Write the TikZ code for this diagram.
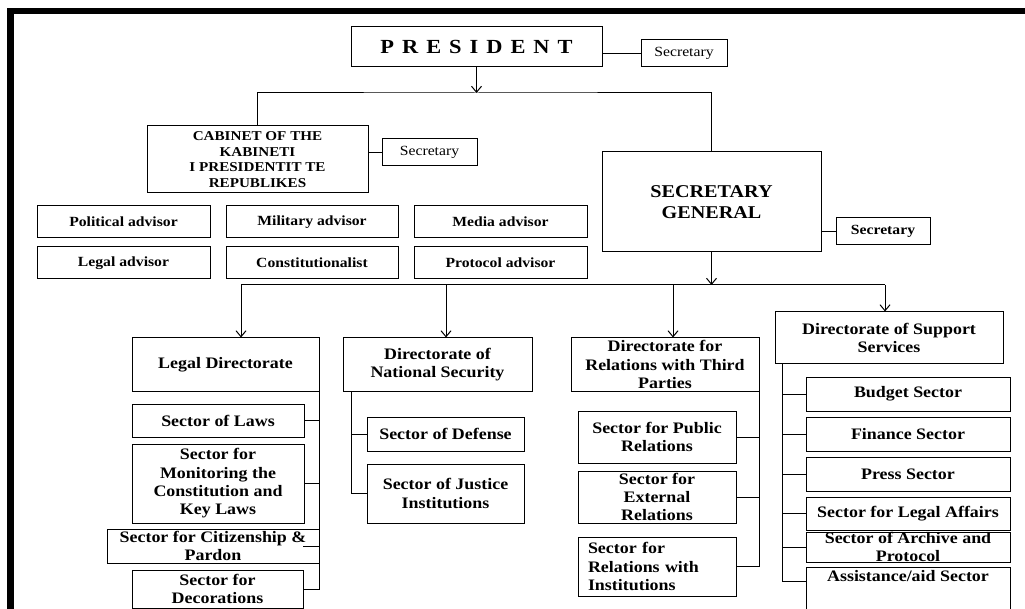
\documentclass[tikz,border=0pt]{standalone}
\usepackage{fontspec}
\setmainfont{Liberation Serif}[FakeStretch=1.12]
\usetikzlibrary{arrows.meta, positioning}

\begin{document}
\begin{tikzpicture}[x=1pt, y=-1pt, line width=1pt, >={Straight Barb[length=6pt,width=10pt]},
    box/.style={draw, inner xsep=2pt, inner ysep=0pt, align=center, font=\bfseries\fontsize{16}{18.3}\selectfont},
    adv/.style={box, minimum width=173pt, minimum height=32pt, font=\bfseries\fontsize{14}{16}\selectfont},
    secbox/.style={box, minimum height=27pt, font=\fontsize{14}{16}\selectfont},
    dirbox/.style={box, minimum height=53pt},
    sectbox/.style={box, minimum width=204pt, minimum height=34pt}]
    \useasboundingbox (0,0) rectangle (1025,609);

    % Black frame (top and left)
    \fill (7,8) rectangle (1025,14);
    \fill (7,8) rectangle (14,609);

    % President and his secretary
    \node[box, minimum width=251pt, minimum height=40pt, font=\bfseries\fontsize{20}{24}\selectfont]
        (pres) at (476.5,47) {{\spaceskip=0.4em\relax P R E S I D E N T}};
    \node[secbox, minimum width=86pt] (psec) at (684,53.5) {Secretary};

    % Cabinet
    \node[box, minimum width=221pt, minimum height=67pt, font=\bfseries\fontsize{13.5}{15.5}\selectfont]
        (cab) at (257.5,159.5) {CABINET OF THE\\KABINETI\\I PRESIDENTIT TE\\REPUBLIKES};
    \node[secbox, minimum width=95pt] (csec) at (429.5,152.5) {Secretary};

    % Secretary general
    \node[box, minimum width=219pt, minimum height=100pt, font=\bfseries\fontsize{18}{21.5}\selectfont]
        (sg) at (711.5,202) {SECRETARY\\GENERAL};
    \node[secbox, minimum width=94pt, font=\bfseries\fontsize{14}{16}\selectfont] (sgsec) at (883,231.5) {Secretary};

    % Advisors
    \node[adv] (pol) at (123.5,222) {Political advisor};
    \node[adv, minimum width=172pt] (mil) at (312,222) {Military advisor};
    \node[adv] (med) at (500.5,222) {Media advisor};
    \node[adv, below=8pt of pol] (legadv) {Legal advisor};
    \node[adv, minimum width=172pt, below=8pt of mil] (const) {Constitutionalist};
    \node[adv, below=8pt of med] (prot) {Protocol advisor};

    % Directorates
    \node[dirbox, minimum width=187pt] (legal) at (225.5,364.5) {Legal Directorate};
    \node[dirbox, minimum width=189pt] (natsec) at (437.5,364.5) {Directorate of\\National Security};
    \node[dirbox, minimum width=188pt] (third) at (665,364.5) {Directorate for\\Relations with Third\\Parties};
    \node[dirbox, minimum width=228pt, minimum height=52pt] (supp) at (889,338) {Directorate of Support\\Services};

    % Sectors of the legal directorate
    \node[box, minimum width=172pt, minimum height=33pt] (laws) at (218,420.5) {Sector of Laws};
    \node[box, minimum width=172pt, minimum height=79pt] (monit) at (218,483.5) {Sector for\\Monitoring the\\Constitution and\\Key Laws};
    \node[box, minimum width=212pt, minimum height=34pt] (citiz) at (213,546) {Sector for Citizenship \&\\Pardon};
    \node[box, minimum width=171pt, minimum height=38pt] (decor) at (217.5,589) {Sector for\\Decorations};

    % Sectors of national security
    \node[box, minimum width=157pt, minimum height=34pt] (defense) at (445.5,434) {Sector of Defense};
    \node[box, minimum width=157pt, minimum height=59pt] (justice) at (445.5,493.5) {Sector of Justice\\Institutions};

    % Sectors for relations with third parties
    \node[box, minimum width=158pt, minimum height=52pt] (pubrel) at (657,437) {Sector for Public\\Relations};
    \node[box, minimum width=158pt, minimum height=52pt] (extrel) at (657,497) {Sector for\\External\\Relations};
    \node[box, minimum height=59pt, text width=138pt, inner xsep=10pt, align=left] (instrel) at (657,566.5) {Sector for\\Relations with\\Institutions};

    % Sectors of support services
    \node[sectbox] (budget) at (908,394) {Budget Sector};
    \node[sectbox] (finance) at (908,434) {Finance Sector};
    \node[sectbox] (press) at (908,474) {Press Sector};
    \node[sectbox, minimum height=33pt] (legaff) at (908,513.5) {Sector for Legal Affairs};
    \node[sectbox, minimum height=30pt] (archive) at (908,547) {Sector of Archive and\\Protocol};
    \node[box, minimum width=204pt, text height=11pt, text depth=30pt, inner ysep=3pt, anchor=north]
        (assist) at (908,567) {Assistance/aid Sector};

    % Secretaries
    \draw (pres.east |- psec.west) -- (psec.west);
    \draw (cab.east |- csec.west) -- (csec.west);
    \draw (sg.east |- sgsec.west) -- (sgsec.west);

    % Upper bus
    \coordinate (topbus) at (476.5,93);
    \draw[->] (pres.south) -- (topbus);
    \draw (cab.north) |- (topbus) -| (sg.north);

    % Lower bus
    \coordinate (lowbus) at (711.5,285);
    \coordinate (b1) at (241,285);
    \coordinate (b2) at (446,285);
    \coordinate (b3) at (673,285);
    \coordinate (b4) at (885,285);
    \draw[->] (sg.south) -- (lowbus);
    \draw (b1) -- (b4);
    \foreach \b/\d in {b1/legal, b2/natsec, b3/third, b4/supp}
        \draw[->] (\b) -- (\b |- \d.north);

    % Legal directorate trunk
    \draw (legal.south east) |- (decor.east);
    \draw (laws.east) -- (laws.east -| legal.east);
    \draw (monit.east) -- (monit.east -| legal.east);
    \draw (citiz.east) -- ++(-17,0);

    % National security trunk
    \coordinate (nstrunk) at ([xshift=9pt]natsec.south west);
    \draw (nstrunk) |- (justice.west);
    \draw (defense.west) -- (defense.west -| nstrunk);

    % Third parties trunk
    \draw (third.south east) |- (instrel.east);
    \draw (pubrel.east) -- (pubrel.east -| third.east);
    \draw (extrel.east) -- (extrel.east -| third.east);

    % Support services trunk
    \coordinate (sptrunk) at ([xshift=8pt]supp.south west);
    \draw (sptrunk) |- (assist.base west);
    \foreach \s in {budget, finance, press, legaff, archive}
        \draw (\s.west) -- (\s.west -| sptrunk);
\end{tikzpicture}
\end{document}
